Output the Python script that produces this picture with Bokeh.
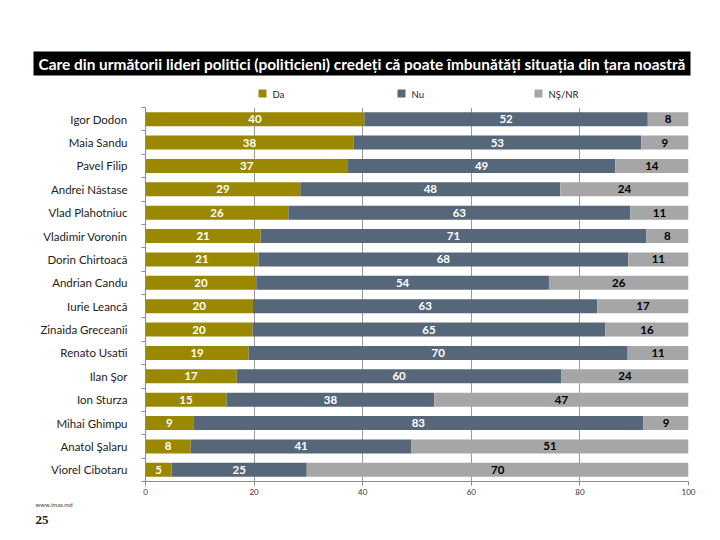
from bokeh.plotting import figure
from bokeh.layouts import column
from bokeh.models import ColumnDataSource, FixedTicker, Range1d
from bokeh.embed import file_html
from bokeh.resources import INLINE
from bokeh.core.properties import value

names = ["Igor Dodon", "Maia Sandu", "Pavel Filip", "Andrei Năstase", "Vlad Plahotniuc",
         "Vladimir Voronin", "Dorin Chirtoacă", "Andrian Candu", "Iurie Leancă",
         "Zinaida Greceanîi", "Renato Usatîi", "Ilan Şor", "Ion Sturza", "Mihai Ghimpu",
         "Anatol Şalaru", "Viorel Cibotaru"]
da = [40.3, 38.3, 37.3, 28.5, 26.3, 21.2, 20.8, 20.4, 19.8, 19.7, 19.0, 16.8, 14.9, 8.8, 8.3, 4.8]
nu = [52.2, 53.0, 49.2, 47.9, 63.0, 71.0, 68.1, 53.9, 63.4, 65.0, 69.8, 59.8, 38.3, 82.9, 40.7, 24.9]
ns = [7.5, 8.7, 13.5, 23.6, 10.7, 7.8, 11.1, 25.7, 16.8, 15.3, 11.2, 23.4, 46.8, 8.3, 51.0, 70.3]
da_lbl = [40, 38, 37, 29, 26, 21, 21, 20, 20, 20, 19, 17, 15, 9, 8, 5]
nu_lbl = [52, 53, 49, 48, 63, 71, 68, 54, 63, 65, 70, 60, 38, 83, 41, 25]
ns_lbl = [8, 9, 14, 24, 11, 8, 11, 26, 17, 16, 11, 24, 47, 9, 51, 70]
series = ["Da", "Nu", "NŞ/NR"]
colors = ["#9A8900", "#56677A", "#A6A6A6"]
title_text = "Care din următorii lideri politici (politicieni) credeți că poate îmbunătăți situația din țara noastră"
x_ticks = [0, 20, 40, 60, 80, 100]

W = 720
HEAD_H, MAIN_H, FOOT_H = 107, 393, 40
FL, FR = 145, 688
FRAME_BOTTOM = 481


def plain(h):
    f = figure(width=W, height=h, output_backend="svg", toolbar_location=None,
               x_range=Range1d(0, W), y_range=Range1d(h, 0),
               min_border=0, min_border_left=0, min_border_right=0,
               min_border_top=0, min_border_bottom=0,
               x_axis_type=None, y_axis_type=None, frame_align=False)
    f.outline_line_color = None
    f.grid.grid_line_color = None
    f.background_fill_color = "white"
    f.border_fill_color = "white"
    return f


# ---------- header: title banner + legend ----------
head = plain(HEAD_H)
head.quad(left=[33], right=[690], top=[51], bottom=[75], fill_color="black", line_color=None)
head.text(x=[361.5], y=[63.5], text=[title_text], text_font=value("Lato"),
          text_font_style="bold", text_font_size="15.4px", text_color="white",
          text_align="center", text_baseline="middle")
leg_x = [258, 397, 534]
head.quad(left=leg_x, right=[x + 8 for x in leg_x], top=[89] * 3, bottom=[97] * 3,
          fill_color=colors, line_color=None)
head.text(x=[x + 14 for x in leg_x], y=[93.5] * 3, text=series, text_font=value("Lato"),
          text_font_size="9.5px", text_color="#222222", text_align="left",
          text_baseline="middle")

# ---------- main chart ----------
n = len(names)
ys = [n - 1 - i for i in range(n)]
src = ColumnDataSource(dict(
    y=ys, da=da, nu=nu, ns=ns,
    da_x=[a / 2 for a in da],
    nu_x=[a + b / 2 for a, b in zip(da, nu)],
    ns_x=[a + b + c / 2 for a, b, c in zip(da, nu, ns)],
    da_t=[str(v) for v in da_lbl],
    nu_t=[str(v) for v in nu_lbl],
    ns_t=[str(v) for v in ns_lbl],
))

p = figure(width=W, height=MAIN_H, output_backend="svg", toolbar_location=None,
           x_range=Range1d(0, 100), y_range=Range1d(-0.5, n - 0.5),
           min_border_left=FL, min_border_right=W - FR,
           min_border_top=0, min_border_bottom=HEAD_H + MAIN_H - FRAME_BOTTOM,
           frame_align=False)
p.outline_line_color = None
p.background_fill_color = "white"
p.border_fill_color = "white"

p.hbar_stack(["da", "nu", "ns"], y="y", height=0.6, fill_color=colors,
             line_color=None, source=src)

font = value("Lato")
for col, tcol, c in (("da_x", "da_t", "white"), ("nu_x", "nu_t", "white"), ("ns_x", "ns_t", "black")):
    p.text(x=col, y="y", text=tcol, source=src, text_font=font, text_font_style="bold",
           text_font_size="11.5px", text_color=c, text_align="center", text_baseline="middle")

p.xaxis.ticker = FixedTicker(ticks=x_ticks)
p.xaxis.axis_line_color = "#8C8C8C"
p.xaxis.major_tick_line_color = "#8C8C8C"
p.xaxis.major_tick_out = 4
p.xaxis.major_tick_in = 0
p.xaxis.minor_tick_line_color = None
p.xaxis.major_label_text_font = "Lato"
p.xaxis.major_label_text_font_size = "8px"
p.xaxis.major_label_text_color = "#333333"
p.xaxis.major_label_standoff = 3

p.yaxis.ticker = FixedTicker(ticks=ys, minor_ticks=[k - 0.5 for k in range(n + 1)])
p.yaxis.major_label_overrides = {yv: nm for yv, nm in zip(ys, names)}
p.yaxis.axis_line_color = "#8C8C8C"
p.yaxis.major_tick_line_color = None
p.yaxis.major_tick_out = 0
p.yaxis.major_tick_in = 0
p.yaxis.minor_tick_line_color = "#8C8C8C"
p.yaxis.minor_tick_out = 4
p.yaxis.minor_tick_in = 0
p.yaxis.major_label_text_font = "Lato"
p.yaxis.major_label_text_font_size = "11.5px"
p.yaxis.major_label_text_color = "#222222"
p.yaxis.major_label_standoff = 14

p.xgrid.grid_line_color = "#9A9A9A"
p.xgrid.grid_line_width = 1
p.ygrid.grid_line_color = None

# ---------- footer ----------
foot = plain(FOOT_H)
foot.text(x=[35], y=[3.5], text=["www.imas.md"], text_font=value("Lato"),
          text_font_size="6px", text_color="#444444", text_align="left", text_baseline="middle")
foot.text(x=[35], y=[19.5], text=["25"], text_font=value("Liberation Serif"),
          text_font_style="bold", text_font_size="13px", text_color="#222222",
          text_align="left", text_baseline="middle")

layout = column(head, p, foot, spacing=0)
open("out.html", "w").write(file_html(layout, INLINE))
